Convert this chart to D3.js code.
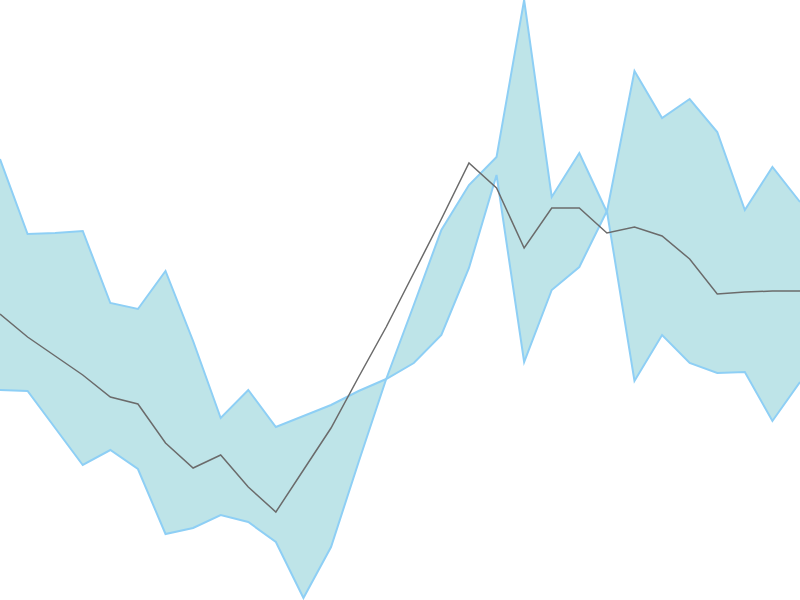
<!DOCTYPE html>
<html>
<head>
<meta charset="utf-8">
<script src="https://cdn.jsdelivr.net/npm/d3@7"></script>
<style>
  html, body { margin: 0; padding: 0; background: #fff; }
  svg { display: block; }
</style>
</head>
<body>
<svg id="chart" width="800" height="600"></svg>
<script>
const steps = d3.range(30);
const bandA = [44.1, 36.6, 36.7, 36.9, 29.7, 29.1, 32.9, 25.9, 18.2, 21.0, 17.3, 18.4, 19.5, 20.9, 22.1, 23.7, 26.5, 33.2, 42.5, 23.8, 31.0, 33.3, 38.9, 21.9, 26.5, 23.7, 22.7, 22.8, 17.9, 21.8];
const bandB = [21.0, 20.9, 17.2, 13.5, 15.0, 13.1, 6.6, 7.2, 8.5, 7.8, 5.8, 0.2, 5.3, 13.8, 22.1, 29.5, 37.0, 41.5, 44.3, 60.0, 40.3, 44.7, 38.8, 52.9, 48.2, 50.1, 46.8, 39.0, 43.3, 39.8];
const meanLine = [28.6, 26.3, 24.4, 22.5, 20.3, 19.6, 15.7, 13.2, 14.5, 11.3, 8.8, 13.0, 17.2, 22.3, 27.3, 32.7, 38.1, 43.7, 41.2, 35.2, 39.2, 39.2, 36.7, 37.3, 36.4, 34.1, 30.6, 30.8, 30.9, 30.9];

const W = 800, H = 600;
const svg = d3.select("#chart");
const x = d3.scaleLinear().domain(d3.extent(steps)).range([0, W]);
const y = d3.scaleLinear().domain([0, 60]).range([H, 0]);

const rows = steps.map((s, i) => ({ s, a: bandA[i], b: bandB[i], m: meanLine[i] }));

svg.append("path")
  .datum(rows)
  .attr("fill", "#bee4e8")
  .attr("d", d3.area().x(d => x(d.s)).y0(d => y(d.a)).y1(d => y(d.b)));

const edge = key => d3.line().x(d => x(d.s)).y(d => y(d[key]));
["a", "b"].forEach(k => {
  svg.append("path")
    .datum(rows)
    .attr("fill", "none")
    .attr("stroke", "#8ecff5")
    .attr("stroke-width", 2)
    .attr("stroke-linejoin", "miter")
    .attr("d", edge(k));
});

svg.append("path")
  .datum(rows)
  .attr("fill", "none")
  .attr("stroke", "#6b6b6b")
  .attr("stroke-width", 1.5)
  .attr("d", edge("m"));
</script>
</body>
</html>
